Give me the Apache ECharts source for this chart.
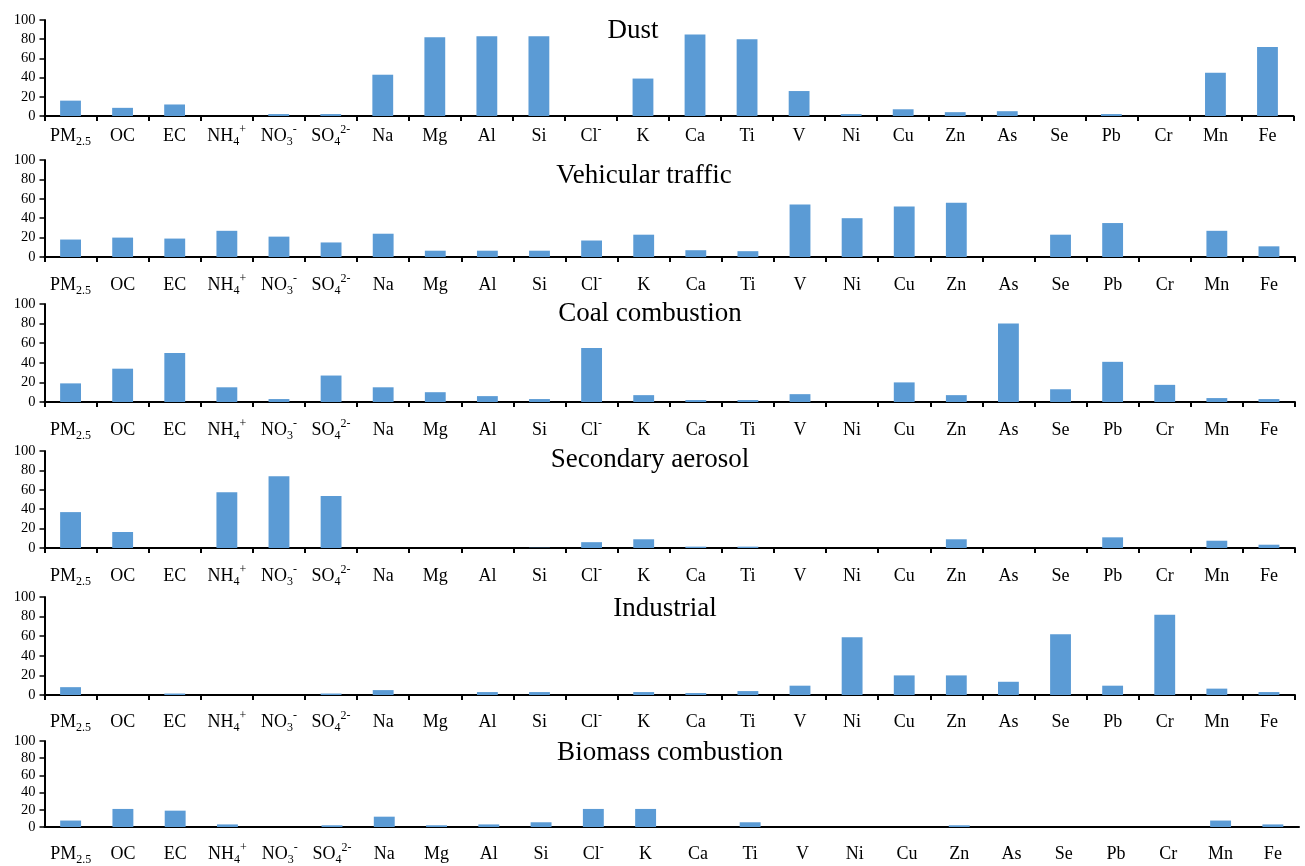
<!DOCTYPE html>
<html>
<head>
<meta charset="UTF-8">
<title>Source profiles</title>
<style>
html,body{margin:0;padding:0;background:#fff;}
#main{width:1305px;height:866px;}
</style>
</head>
<body>
<div id="main"></div>
<script src="https://cdn.jsdelivr.net/npm/echarts@6/dist/echarts.min.js"></script>
<script>
// species on the x axis
var categories = ['PM2.5','OC','EC','NH4+','NO3-','SO42-','Na','Mg','Al','Si','Cl-','K','Ca','Ti','V','Ni','Cu','Zn','As','Se','Pb','Cr','Mn','Fe'];

// contribution (%) of each source
var dust       = [16, 8.5, 12, 0, 2, 2, 43, 82, 83, 83, 0, 39, 85, 80, 26, 2, 7, 4, 5, 0, 2, 0, 45, 72];
var vehicular  = [18, 20, 19, 27, 21, 15, 24, 6.5, 6.5, 6.5, 17, 23, 7, 6, 54, 40, 52, 56, 0, 23, 35, 0, 27, 11];
var coal       = [19, 34, 50, 15, 3, 27, 15, 10, 6, 3, 55, 7, 2, 2, 8, 0, 20, 7, 80, 13, 41, 17.5, 4, 3];
var secondary  = [37, 16.5, 0, 57.5, 74, 53.5, 0, 0, 0, 0.3, 6, 9, 1.4, 1.4, 0, 0, 0, 9, 0, 0, 11, 0, 7.5, 3.4];
var industrial = [8, 0, 1.5, 0, 0, 1.5, 5, 0, 3, 3, 0, 3, 2, 4, 9.5, 59, 20, 20, 13.5, 62, 9.5, 82, 6.5, 3];
var biomass    = [7.5, 21, 19, 3, 0, 2, 12, 2, 3, 5.5, 21, 21, 0, 5.5, 0, 0, 0, 2, 0, 0, 0, 0, 7.5, 3];

var titles = ['Dust', 'Vehicular traffic', 'Coal combustion', 'Secondary aerosol', 'Industrial', 'Biomass combustion'];
var seriesData = [dust, vehicular, coal, secondary, industrial, biomass];

var yMin = 0, yMax = 100, yStep = 20;

// panel placement
var panels = [
	{top: 20,  height: 96, right: 11.5, tx: 633, ty: 31,  margin: 8,  ticks: true},
	{top: 160, height: 97, right: 10,   tx: 644, ty: 176, margin: 16, ticks: true},
	{top: 304, height: 98, right: 10,   tx: 650, ty: 314, margin: 16, ticks: true},
	{top: 451, height: 97, right: 10,   tx: 650, ty: 460, margin: 16, ticks: true},
	{top: 597, height: 98, right: 10,   tx: 665, ty: 609, margin: 15, ticks: true},
	{top: 741, height: 91, right: 6,    tx: 670, ty: 753, margin: 15, ticks: false}
];

var FONT = '"Liberation Serif", "Times New Roman", serif';

// chemical formula -> rich text
function fmt(name){
	switch(name){
		case 'PM2.5': return '{n|PM}{sub|2.5}';
		case 'NH4+':  return '{n|NH}{sub|4}{sup|+}';
		case 'NO3-':  return '{n|NO}{sub|3}{sup|-}';
		case 'SO42-': return '{n|SO}{sub|4}{sup|2-}';
		case 'Cl-':   return '{n|Cl}{sup|-}';
		default:      return '{n|' + name + '}';
	}
}

var rich = {
	n:   {fontFamily: FONT, fontSize: 18, lineHeight: 24, color: '#000'},
	sub: {fontFamily: FONT, fontSize: 12, lineHeight: 12, padding: [12, 0, 0, 0], color: '#000'},
	sup: {fontFamily: FONT, fontSize: 12, lineHeight: 12, padding: [0, 0, 12, 0], color: '#000'}
};

var grid = [], xAxis = [], yAxis = [], series = [], graphic = [];

panels.forEach(function(p, i){
	grid.push({left: 44.5, right: p.right, top: p.top, height: p.height, containLabel: false});
	xAxis.push({
		type: 'category',
		gridIndex: i,
		data: categories,
		boundaryGap: true,
		axisLine: {show: true, lineStyle: {color: '#000', width: 2}},
		axisTick: {show: p.ticks, length: 5, lineStyle: {color: '#000', width: 2}},
		axisLabel: {interval: 0, margin: p.margin, formatter: fmt, rich: rich}
	});
	yAxis.push({
		type: 'value',
		gridIndex: i,
		min: yMin, max: yMax, interval: yStep,
		axisLine: {show: true, lineStyle: {color: '#000', width: 2}},
		axisTick: {show: true, length: 5, lineStyle: {color: '#000', width: 1.5}},
		axisLabel: {color: '#000', fontFamily: FONT, fontSize: 14.5, margin: 9},
		splitLine: {show: false}
	});
	series.push({
		type: 'bar',
		name: titles[i],
		xAxisIndex: i,
		yAxisIndex: i,
		data: seriesData[i],
		barWidth: '40%',
		itemStyle: {color: '#5B9BD5'},
		silent: true
	});
	graphic.push({
		type: 'text',
		x: p.tx,
		y: p.ty,
		style: {
			text: titles[i],
			font: '27px ' + FONT,
			fill: '#000',
			textAlign: 'center',
			textVerticalAlign: 'middle'
		}
	});
});

var myChart = echarts.init(document.getElementById('main'));
myChart.setOption({
	animation: false,
	backgroundColor: '#fff',
	grid: grid,
	xAxis: xAxis,
	yAxis: yAxis,
	series: series,
	graphic: graphic
});
</script>
</body>
</html>
